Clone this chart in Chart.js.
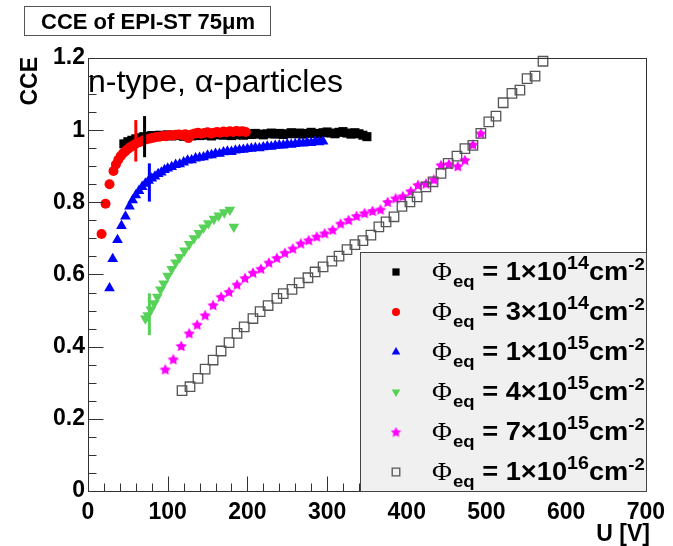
<!DOCTYPE html>
<html>
<head>
<meta charset="utf-8">
<script src="https://cdn.jsdelivr.net/npm/chart.js@4/dist/chart.umd.min.js"></script>
<style>
  html, body { margin: 0; padding: 0; background: #fff; }
  #c { display: block; }
</style>
</head>
<body>
<canvas id="c" width="673" height="546"></canvas>
<script>
// Charge collection efficiency vs. bias voltage, EPI-ST 75 µm n-type, alpha particles

// Φeq = 1e14 cm^-2
const u1e14 = [45,50,55,60,65,70,75,80,85,90,95,100,105,110,115,120,125,130,135,140,145,150,155,160,165,170,175,180,185,190,195,200,205,210,215,220,225,230,235,240,245,250,255,260,265,270,275,280,285,290,295,300,305,310,315,320,325,330,335,340,345,350];
const cce1e14 = [0.962,0.968,0.972,0.976,0.979,0.982,0.983,0.985,0.984,0.986,0.985,0.987,0.984,0.986,0.985,0.983,0.986,0.984,0.987,0.985,0.988,0.986,0.984,0.987,0.989,0.986,0.988,0.985,0.987,0.989,0.986,0.990,0.988,0.991,0.989,0.987,0.990,0.992,0.989,0.991,0.988,0.990,0.993,0.990,0.992,0.989,0.991,0.994,0.991,0.989,0.993,0.995,0.992,0.990,0.994,0.996,0.992,0.989,0.993,0.990,0.986,0.982];

// Φeq = 3e14 cm^-2
const u3e14 = [17,22,27,32,35,38,41,44,47,50,53,56,59,62,66,70,74,78,82,86,90,94,98,102,106,110,114,118,122,126,130,134,138,142,146,150,154,158,162,166,170,174,178,182,186,190,194,198];
const cce3e14 = [0.712,0.796,0.850,0.887,0.905,0.918,0.928,0.936,0.942,0.948,0.953,0.957,0.961,0.965,0.968,0.972,0.975,0.977,0.979,0.981,0.982,0.984,0.983,0.986,0.985,0.987,0.988,0.986,0.989,0.978,0.988,0.991,0.993,0.990,0.992,0.994,0.991,0.993,0.995,0.993,0.996,0.994,0.997,0.995,0.998,0.996,0.997,0.995];

// Φeq = 1e15 cm^-2
const u1e15 = [27,31,37,42,47,52,56,60,64,68,72,76,80,84,88,92,96,100,105,110,115,120,125,130,135,140,145,150,155,160,165,170,175,180,185,190,195,200,205,210,215,220,225,230,235,240,245,250,255,260,265,270,275,280,285,290,295];
const cce1e15 = [0.562,0.643,0.696,0.735,0.761,0.789,0.806,0.820,0.832,0.843,0.852,0.860,0.866,0.872,0.879,0.883,0.890,0.894,0.898,0.904,0.906,0.911,0.916,0.917,0.922,0.924,0.925,0.930,0.931,0.935,0.935,0.939,0.941,0.940,0.944,0.945,0.946,0.948,0.949,0.951,0.950,0.953,0.955,0.954,0.957,0.958,0.958,0.961,0.960,0.962,0.964,0.963,0.966,0.965,0.968,0.967,0.969];

// Φeq = 4e15 cm^-2
const u4e15 = [72,75,79,83,87,91,95,100,105,110,115,121,127,133,139,145,151,158,164,171,178,183];
const cce4e15 = [0.478,0.487,0.503,0.520,0.538,0.558,0.575,0.596,0.615,0.633,0.648,0.666,0.684,0.700,0.715,0.730,0.742,0.754,0.763,0.772,0.779,0.732];

// Φeq = 7e15 cm^-2
const u7e15 = [97,107,117,127,137,147,157,167,177,187,197,207,217,227,237,247,257,267,277,287,297,307,317,327,337,347,357,367,376,386,395,405,414,424,434,443,453,464,473,483,493];
const cce7e15 = [0.337,0.365,0.402,0.437,0.461,0.487,0.515,0.538,0.552,0.572,0.590,0.605,0.616,0.633,0.646,0.660,0.672,0.686,0.695,0.705,0.714,0.724,0.741,0.751,0.762,0.770,0.776,0.780,0.801,0.811,0.817,0.831,0.848,0.852,0.863,0.903,0.906,0.900,0.917,0.960,0.991];

// Φeq = 1e16 cm^-2
const u1e16 = [118,128,138,147,157,167,177,187,196,207,216,226,237,245,256,265,276,285,295,306,315,325,335,345,355,365,374,384,394,404,413,424,433,443,452,463,473,483,493,503,512,521,532,542,551,561,571];
const cce1e16 = [0.278,0.289,0.312,0.338,0.363,0.388,0.411,0.437,0.455,0.478,0.497,0.514,0.534,0.547,0.559,0.577,0.591,0.607,0.621,0.637,0.651,0.669,0.683,0.694,0.709,0.732,0.746,0.760,0.789,0.801,0.815,0.843,0.857,0.880,0.908,0.928,0.949,0.958,0.991,1.023,1.039,1.076,1.102,1.111,1.143,1.150,1.191];

// One error bar per series (index into the series list), voltage and CCE range
const errSeries = [0, 1, 2, 3];
const errU = [71, 60, 77, 77];
const errLow = [0.925, 0.913, 0.802, 0.432];
const errHigh = [1.039, 1.028, 0.908, 0.548];

// Legend text: Φeq = <mantissa>×10^<exponent> cm^-2
const legendMantissa = ['1', '3', '1', '4', '7', '1'];
const legendExponent = ['14', '14', '15', '15', '15', '16'];

// Axis ticks
const xTickStep = 100, xMinorStep = 20;
const yTickStep = 0.2, yMinorStep = 0.05;

const SANS = '"Liberation Sans", Arial, Helvetica, sans-serif';
const colors = ['#000000', '#ff0000', '#0000ff', '#57d157', '#ff00ff', '#555555'];

function starImage(size, color) {
  const cv = document.createElement('canvas');
  cv.width = cv.height = size;
  const g = cv.getContext('2d');
  const R = size / 2, r = R * 0.5;
  g.beginPath();
  for (let i = 0; i < 10; i++) {
    const a = -Math.PI / 2 + i * Math.PI / 5;
    const rad = i % 2 ? r : R;
    g.lineTo(R + rad * Math.cos(a), R + 0.5 + rad * Math.sin(a));
  }
  g.closePath();
  g.fillStyle = color;
  g.fill();
  return cv;
}

const star = starImage(12, colors[4]);
const starSmall = starImage(11, colors[4]);

const markers = [
  { pointStyle: 'rect', radius: 6.4, rotation: 0, fill: colors[0], stroke: colors[0], bw: 0 },
  { pointStyle: 'circle', radius: 5, rotation: 0, fill: colors[1], stroke: colors[1], bw: 0 },
  { pointStyle: 'triangle', radius: 6.2, rotation: 0, fill: colors[2], stroke: colors[2], bw: 0 },
  { pointStyle: 'triangle', radius: 6.2, rotation: 180, fill: colors[3], stroke: colors[3], bw: 0 },
  { pointStyle: star, radius: 6, rotation: 0, fill: colors[4], stroke: colors[4], bw: 0 },
  { pointStyle: 'rect', radius: 6.7, rotation: 0, fill: 'rgba(0,0,0,0)', stroke: '#555555', bw: 1.3 }
];

const seriesU = [u1e14, u3e14, u1e15, u4e15, u7e15, u1e16];
const seriesCCE = [cce1e14, cce3e14, cce1e15, cce4e15, cce7e15, cce1e16];

const datasets = seriesU.map((us, s) => ({
  label: 'Φeq = ' + legendMantissa[s] + '×10^' + legendExponent[s],
  data: us.map((u, i) => ({ x: u, y: seriesCCE[s][i] })),
  showLine: false,
  order: 10 - s,
  clip: false,
  pointStyle: markers[s].pointStyle,
  pointRadius: markers[s].radius,
  pointRotation: markers[s].rotation,
  pointBackgroundColor: markers[s].fill,
  pointBorderColor: markers[s].stroke,
  pointBorderWidth: markers[s].bw,
  pointHoverRadius: markers[s].radius
}));

// Frame, inner ticks, error bars, text and the legend box
const decorations = {
  id: 'decorations',
  beforeDraw(chart) {
    const c = chart.ctx;
    c.save();
    c.fillStyle = '#ffffff';
    c.fillRect(0, 0, chart.width, chart.height);
    c.restore();
  },
  afterDatasetsDraw(chart) {
    const c = chart.ctx, xs = chart.scales.x, ys = chart.scales.y, a = chart.chartArea;
    c.save();

    // error bars
    c.lineWidth = 3;
    errSeries.forEach((s, i) => {
      const px = xs.getPixelForValue(errU[i]);
      c.strokeStyle = colors[s];
      c.beginPath();
      c.moveTo(px, ys.getPixelForValue(errLow[i]));
      c.lineTo(px, ys.getPixelForValue(errHigh[i]));
      c.stroke();
    });

    // frame
    const L = Math.round(a.left) + 0.5, T = Math.round(a.top) + 0.5;
    const R = Math.round(a.right) + 0.5, B = Math.round(a.bottom) + 0.5;
    c.lineWidth = 1;
    c.strokeStyle = '#333333';
    c.strokeRect(L, T, R - L, B - T);

    // ticks pointing into the frame
    c.beginPath();
    for (let v = xMinorStep; v < xs.max - 1e-9; v += xMinorStep) {
      const px = Math.round(xs.getPixelForValue(v)) + 0.5;
      const major = Math.abs(v / xTickStep - Math.round(v / xTickStep)) < 1e-6;
      c.moveTo(px, B);
      c.lineTo(px, B - (major ? 15 : 8));
    }
    for (let k = 1; k * yMinorStep < ys.max - 1e-9; k++) {
      const v = k * yMinorStep;
      const py = Math.round(ys.getPixelForValue(v)) + 0.5;
      const major = Math.abs(v / yTickStep - Math.round(v / yTickStep)) < 1e-6;
      c.moveTo(L, py);
      c.lineTo(L + (major ? 15 : 8), py);
    }
    c.stroke();

    // in-frame annotation
    c.fillStyle = '#000';
    c.font = '32px ' + SANS;
    c.textBaseline = 'alphabetic';
    c.textAlign = 'left';
    c.fillText('n-type, α-particles', a.left, 92);

    // axis titles
    c.font = 'bold 23px ' + SANS;
    c.textAlign = 'right';
    c.fillText('U [V]', 650, 541);
    c.save();
    c.translate(37, 57);
    c.rotate(-Math.PI / 2);
    c.fillText('CCE', 0, 0);
    c.restore();

    // title box
    c.fillStyle = '#ffffff';
    c.fillRect(24.5, 6.5, 246, 29);
    c.strokeStyle = '#555555';
    c.strokeRect(24.5, 6.5, 246, 29);
    c.fillStyle = '#000';
    c.font = 'bold 22px ' + SANS;
    c.textAlign = 'center';
    c.fillText('CCE of EPI-ST 75μm', 148, 29);

    // legend box
    const lx = 360.5, ly = 252.5;
    c.fillStyle = '#f0f0f0';
    c.fillRect(lx, ly, R - lx, B - ly);
    c.strokeStyle = '#444444';
    c.strokeRect(lx, ly, R - lx, B - ly);

    const rowH = 40, row0 = 272;
    const stretch = 1.09;
    for (let s = 0; s < 6; s++) {
      const cy = row0 + s * rowH;
      const m = markers[s];
      c.fillStyle = m.fill;
      c.strokeStyle = m.stroke;
      c.lineWidth = m.bw;
      Chart.helpers.drawPoint(c, {
        pointStyle: m.pointStyle === star ? starSmall : m.pointStyle,
        radius: m.radius * 0.8,
        rotation: m.rotation,
        borderWidth: m.bw
      }, 396, cy);

      // Φ_eq = a×10^b cm^-2, slightly widened
      const base = cy + 8;
      c.save();
      c.translate(432, base);
      c.scale(stretch, 1);
      c.fillStyle = '#000';
      c.textAlign = 'left';
      let x = 0;
      c.font = '25px "Liberation Serif", serif';
      c.fillText('Φ', x, 0);
      x += c.measureText('Φ').width + 1;
      c.font = 'bold 17px ' + SANS;
      c.fillText('eq', x, 7);
      x += c.measureText('eq').width;
      c.font = 'bold 25px ' + SANS;
      const main = ' = ' + legendMantissa[s] + '×10';
      c.fillText(main, x, 0);
      x += c.measureText(main).width;
      c.font = 'bold 18px ' + SANS;
      c.fillText(legendExponent[s], x, -11);
      x += c.measureText(legendExponent[s]).width;
      c.font = 'bold 25px ' + SANS;
      c.fillText('cm', x, 0);
      x += c.measureText('cm').width;
      c.font = 'bold 17px ' + SANS;
      c.fillText('-2', x, -10);
      c.restore();
    }
    c.restore();
  }
};

new Chart(document.getElementById('c'), {
  type: 'scatter',
  data: { datasets },
  options: {
    responsive: false,
    animation: false,
    events: [],
    layout: { padding: { left: 0, top: 58, right: 19, bottom: 0 } },
    plugins: { legend: { display: false }, tooltip: { enabled: false } },
    scales: {
      x: {
        type: 'linear', min: 0, max: 700,
        grid: { display: false, drawTicks: false },
        border: { display: false },
        ticks: { stepSize: xTickStep, maxRotation: 0, padding: 8, color: '#000',
                 font: { family: SANS, size: 23, weight: 'bold' } },
        afterFit(scale) { scale.height = 55; }
      },
      y: {
        type: 'linear', min: 0, max: 1.2,
        grid: { display: false, drawTicks: false },
        border: { display: false },
        ticks: { stepSize: yTickStep, padding: 3, color: '#000',
                 font: { family: SANS, size: 23, weight: 'bold' },
                 callback: v => String(Math.round(v * 10) / 10) },
        afterFit(scale) { scale.width = 88; }
      }
    }
  },
  plugins: [decorations]
});
</script>
</body>
</html>
